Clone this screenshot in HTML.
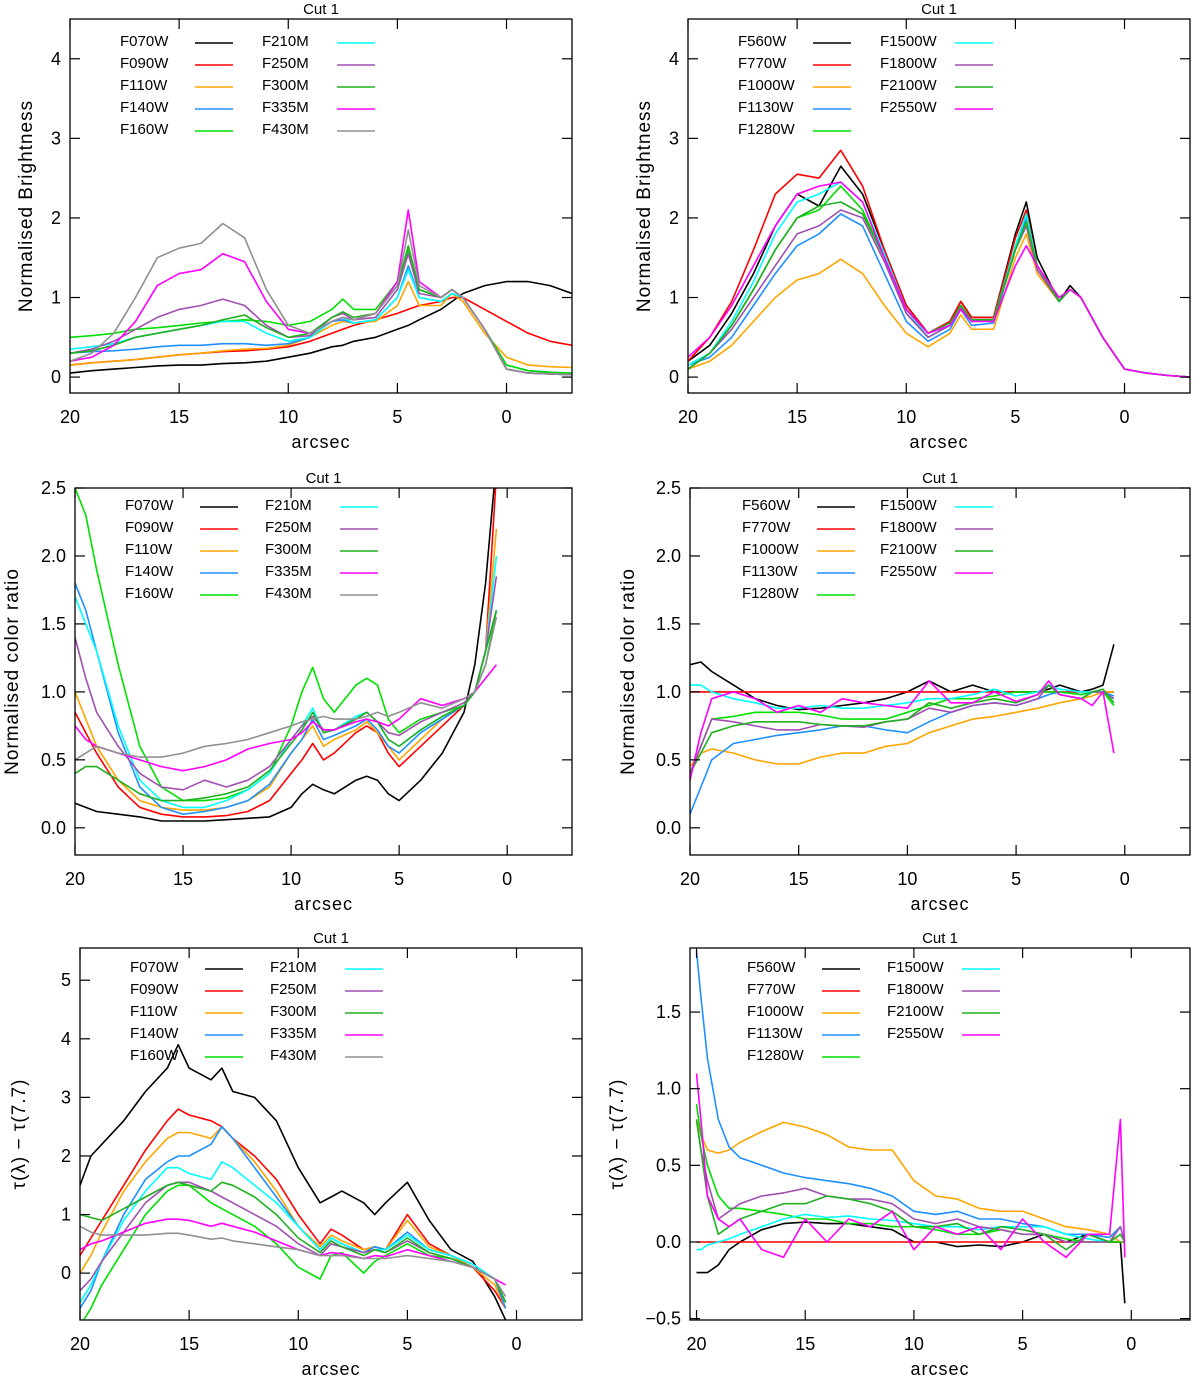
<!DOCTYPE html>
<html><head><meta charset="utf-8">
<style>
html,body{margin:0;padding:0;background:#fff;}
svg{display:block;font-family:"Liberation Sans",sans-serif;}
</style></head>
<body>
<svg id="chart" width="1200" height="1379" viewBox="0 0 1200 1379" xmlns="http://www.w3.org/2000/svg"></svg>
<script>
// ---- Panel 1 data (Normalised brightness, NIRCam) ----
const p1X = [20,19,18,17,16,15,14,13,12,11,10,9,8,7.5,7,6,5,4.5,4,3,2.5,2,1,0,-1,-2,-3];
const p1F070W=[0.05,0.08,0.1,0.12,0.14,0.15,0.15,0.17,0.18,0.2,0.25,0.3,0.38,0.4,0.45,0.5,0.6,0.65,0.72,0.85,0.95,1.05,1.15,1.2,1.2,1.15,1.05];
const p1F090W=[0.15,0.18,0.2,0.22,0.25,0.28,0.3,0.32,0.33,0.35,0.38,0.45,0.55,0.6,0.65,0.72,0.8,0.85,0.9,0.95,1.0,1.0,0.85,0.7,0.55,0.45,0.4];
const p1F110W=[0.15,0.18,0.2,0.22,0.25,0.28,0.3,0.33,0.35,0.36,0.4,0.5,0.65,0.7,0.68,0.7,0.9,1.2,0.9,0.9,1.05,0.95,0.55,0.25,0.15,0.13,0.12];
const p1F140W=[0.3,0.32,0.33,0.35,0.38,0.4,0.4,0.42,0.42,0.4,0.42,0.5,0.7,0.72,0.68,0.72,1.0,1.4,1.0,0.95,1.05,1.0,0.6,0.15,0.08,0.06,0.05];
const p1F160W=[0.5,0.52,0.55,0.6,0.62,0.65,0.68,0.7,0.72,0.7,0.65,0.7,0.85,0.98,0.85,0.85,1.2,1.6,1.1,1.0,1.1,1.0,0.6,0.15,0.08,0.06,0.05];
const p1F210M=[0.35,0.38,0.42,0.5,0.55,0.6,0.65,0.7,0.7,0.55,0.45,0.5,0.7,0.75,0.68,0.72,1.0,1.35,1.0,0.95,1.05,1.0,0.6,0.1,0.05,0.04,0.03];
const p1F250M=[0.3,0.35,0.45,0.6,0.75,0.85,0.9,0.98,0.9,0.65,0.5,0.52,0.75,0.8,0.72,0.75,1.1,1.55,1.05,1.0,1.1,1.0,0.6,0.1,0.05,0.04,0.03];
const p1F300M=[0.3,0.33,0.4,0.5,0.55,0.6,0.65,0.72,0.78,0.62,0.5,0.55,0.75,0.82,0.75,0.8,1.15,1.65,1.1,1.0,1.1,1.0,0.6,0.1,0.05,0.04,0.03];
const p1F335M=[0.2,0.25,0.4,0.7,1.15,1.3,1.35,1.55,1.45,0.95,0.6,0.55,0.7,0.75,0.72,0.8,1.2,2.1,1.2,1.0,1.1,1.0,0.6,0.1,0.05,0.04,0.03];
const p1F430M=[0.2,0.3,0.55,1.0,1.5,1.62,1.68,1.93,1.75,1.1,0.65,0.55,0.7,0.75,0.72,0.8,1.15,1.85,1.15,1.0,1.1,1.0,0.6,0.1,0.05,0.04,0.03];
// ---- Panel 2 data (Normalised brightness, MIRI) ----
const p2X = [20,19,18,17,16,15,14,13,12,11,10,9,8,7.5,7,6,5,4.5,4,3,2.5,2,1,0,-1,-2,-3];
const p2F560W=[0.2,0.4,0.8,1.3,1.9,2.3,2.15,2.65,2.3,1.6,0.9,0.55,0.7,0.95,0.75,0.75,1.8,2.2,1.5,0.95,1.15,1.0,0.5,0.1,0.05,0.02,0.0];
const p2F770W=[0.2,0.5,0.95,1.6,2.3,2.55,2.5,2.85,2.4,1.6,0.9,0.55,0.7,0.95,0.75,0.75,1.75,2.1,1.4,0.95,1.1,1.0,0.5,0.1,0.05,0.02,0.0];
const p2F1000W=[0.1,0.2,0.4,0.7,1.0,1.22,1.3,1.48,1.3,0.9,0.55,0.38,0.55,0.78,0.6,0.6,1.5,1.8,1.3,0.95,1.1,1.0,0.5,0.1,0.05,0.02,0.0];
const p2F1130W=[0.15,0.25,0.5,0.9,1.3,1.65,1.8,2.05,1.9,1.3,0.7,0.45,0.6,0.85,0.65,0.68,1.6,2.0,1.4,0.95,1.1,1.0,0.5,0.1,0.05,0.02,0.0];
const p2F1280W=[0.15,0.3,0.65,1.1,1.6,2.0,2.1,2.4,2.1,1.5,0.8,0.5,0.65,0.9,0.7,0.72,1.65,2.05,1.4,0.95,1.1,1.0,0.5,0.1,0.05,0.02,0.0];
const p2F1500W=[0.15,0.3,0.7,1.2,1.8,2.2,2.3,2.45,2.2,1.55,0.85,0.5,0.65,0.9,0.7,0.72,1.65,2.05,1.4,0.95,1.1,1.0,0.5,0.1,0.05,0.02,0.0];
const p2F1800W=[0.1,0.3,0.6,1.0,1.4,1.8,1.9,2.1,2.0,1.45,0.8,0.5,0.65,0.88,0.7,0.72,1.6,1.9,1.35,0.95,1.1,1.0,0.5,0.1,0.05,0.02,0.0];
const p2F2100W=[0.1,0.3,0.65,1.1,1.6,2.0,2.15,2.2,2.05,1.5,0.85,0.55,0.68,0.9,0.72,0.72,1.6,1.95,1.4,0.95,1.1,1.0,0.5,0.1,0.05,0.02,0.0];
const p2F2550W=[0.25,0.5,0.9,1.4,1.9,2.3,2.4,2.45,2.2,1.5,0.85,0.55,0.65,0.85,0.7,0.7,1.4,1.65,1.4,1.0,1.1,1.0,0.5,0.1,0.05,0.02,0.0];
// ---- Panel 3 data (colour ratio, NIRCam) ----
const p3X = [20,19.5,19,18,17,16,15,14,13,12,11,10,9.5,9,8.5,8,7,6.5,6,5.5,5,4,3,2,1.5,1,0.5];
const p3F070W=[0.18,0.15,0.12,0.1,0.08,0.05,0.05,0.05,0.06,0.07,0.08,0.15,0.25,0.32,0.28,0.25,0.35,0.38,0.35,0.25,0.2,0.35,0.55,0.85,1.2,1.8,2.7];
const p3F090W=[0.85,0.7,0.55,0.3,0.15,0.1,0.08,0.08,0.09,0.12,0.2,0.4,0.5,0.62,0.5,0.55,0.7,0.75,0.7,0.55,0.45,0.6,0.75,0.9,1.0,1.3,2.6];
const p3F110W=[1.0,0.8,0.6,0.35,0.2,0.15,0.13,0.13,0.15,0.2,0.3,0.55,0.65,0.75,0.6,0.65,0.72,0.78,0.7,0.6,0.5,0.65,0.8,0.9,1.0,1.3,2.2];
const p3F140W=[1.8,1.6,1.3,0.7,0.3,0.15,0.1,0.12,0.15,0.2,0.32,0.55,0.65,0.8,0.65,0.68,0.75,0.8,0.72,0.6,0.55,0.7,0.8,0.9,1.0,1.3,1.6];
const p3F160W=[2.5,2.3,1.9,1.2,0.6,0.3,0.2,0.2,0.22,0.28,0.4,0.75,1.0,1.18,0.95,0.85,1.05,1.1,1.05,0.8,0.7,0.8,0.85,0.9,1.0,1.2,1.6];
const p3F210M=[1.7,1.5,1.3,0.75,0.35,0.2,0.15,0.15,0.2,0.28,0.4,0.65,0.75,0.88,0.7,0.72,0.82,0.85,0.78,0.65,0.6,0.72,0.82,0.9,1.0,1.3,2.0];
const p3F250M=[1.4,1.1,0.85,0.6,0.4,0.3,0.28,0.35,0.3,0.35,0.45,0.65,0.75,0.82,0.72,0.72,0.8,0.85,0.78,0.7,0.68,0.78,0.85,0.92,1.0,1.3,1.85];
const p3F300M=[0.4,0.45,0.45,0.35,0.25,0.2,0.2,0.22,0.25,0.3,0.42,0.62,0.72,0.85,0.7,0.72,0.8,0.85,0.78,0.65,0.6,0.72,0.82,0.9,1.0,1.3,1.6];
const p3F335M=[0.75,0.65,0.6,0.55,0.5,0.45,0.42,0.45,0.5,0.58,0.62,0.65,0.7,0.78,0.72,0.72,0.78,0.8,0.78,0.75,0.8,0.95,0.9,0.95,1.0,1.1,1.2];
const p3F430M=[0.5,0.55,0.6,0.55,0.52,0.52,0.55,0.6,0.62,0.65,0.7,0.75,0.78,0.8,0.82,0.8,0.8,0.82,0.85,0.82,0.85,0.92,0.88,0.95,1.0,1.2,1.55];
// ---- Panel 4 data (colour ratio, MIRI) ----
const p4X = [20,19.5,19,18,17,16,15,14,13,12,11,10,9,8,7,6,5,4,3.5,3,2,1.5,1,0.5];
const p4F560W=[1.2,1.22,1.15,1.05,0.95,0.9,0.87,0.88,0.9,0.92,0.95,1.0,1.08,1.0,1.05,1.0,1.0,1.0,1.02,1.05,1.0,1.02,1.05,1.35];
const p4F770W=[1,1,1,1,1,1,1,1,1,1,1,1,1,1,1,1,1,1,1,1,1,1,1,1];
const p4F1000W=[0.45,0.55,0.58,0.55,0.5,0.47,0.47,0.52,0.55,0.55,0.6,0.62,0.7,0.75,0.8,0.82,0.85,0.88,0.9,0.92,0.95,0.97,1.0,1.0];
const p4F1130W=[0.1,0.3,0.5,0.62,0.65,0.68,0.7,0.72,0.75,0.75,0.72,0.7,0.78,0.85,0.9,0.92,0.9,0.95,0.98,1.0,0.98,1.0,1.0,0.97];
const p4F1280W=[0.4,0.6,0.8,0.82,0.85,0.85,0.85,0.83,0.8,0.8,0.8,0.85,0.9,0.95,0.95,0.97,1.0,1.0,1.0,1.0,0.98,1.0,1.0,0.9];
const p4F1500W=[1.05,1.05,1.0,0.95,0.92,0.88,0.88,0.9,0.88,0.88,0.9,0.92,0.95,0.95,0.98,1.02,0.97,1.0,1.05,1.02,1.0,1.0,1.0,0.95];
const p4F1800W=[0.4,0.6,0.8,0.78,0.75,0.72,0.72,0.76,0.75,0.74,0.78,0.8,0.88,0.85,0.9,0.92,0.9,0.95,1.05,0.98,0.95,1.0,1.0,0.95];
const p4F2100W=[0.4,0.55,0.7,0.75,0.78,0.78,0.78,0.76,0.75,0.75,0.78,0.8,0.92,0.88,0.92,0.95,0.92,0.98,1.05,0.98,0.95,1.0,1.02,0.92];
const p4F2550W=[0.35,0.7,0.95,1.0,0.95,0.85,0.9,0.85,0.95,0.92,0.9,0.88,1.08,0.92,0.92,1.0,0.93,0.98,1.08,0.98,0.95,0.9,1.0,0.55];
// ---- Panel 5 data (tau difference, NIRCam) ----
const p5X = [20,19.5,19,18,17,16,15.5,15,14,13.5,13,12,11,10,9,8.5,8,7,6.5,6,5,4,3,2,1,0.5];
const p5F070W=[1.5,2.0,2.2,2.6,3.1,3.5,3.9,3.5,3.3,3.5,3.1,3.0,2.6,1.8,1.2,1.3,1.4,1.2,1.0,1.2,1.55,0.9,0.4,0.2,-0.4,-0.8];
const p5F090W=[0.3,0.6,0.9,1.5,2.1,2.6,2.8,2.7,2.6,2.5,2.3,2.0,1.6,1.0,0.5,0.75,0.65,0.4,0.45,0.4,1.0,0.5,0.3,0.1,-0.3,-0.6];
const p5F110W=[0.0,0.3,0.7,1.4,1.9,2.3,2.4,2.4,2.3,2.5,2.3,1.9,1.4,0.8,0.45,0.65,0.55,0.4,0.45,0.4,0.9,0.45,0.3,0.1,-0.2,-0.6];
const p5F140W=[-0.6,-0.3,0.2,1.0,1.6,1.9,2.0,2.0,2.2,2.5,2.3,1.8,1.3,0.8,0.4,0.6,0.5,0.35,0.45,0.4,0.7,0.4,0.3,0.15,-0.1,-0.6];
const p5F160W=[-0.9,-0.6,-0.2,0.4,1.0,1.4,1.5,1.5,1.2,1.1,1.0,0.8,0.5,0.1,-0.1,0.3,0.35,0.0,0.2,0.3,0.5,0.3,0.25,0.1,-0.1,-0.5];
const p5F210M=[-0.5,-0.2,0.2,0.9,1.4,1.8,1.8,1.7,1.6,1.9,1.8,1.5,1.2,0.8,0.4,0.6,0.5,0.35,0.4,0.4,0.65,0.4,0.3,0.15,-0.1,-0.5];
const p5F250M=[-0.3,-0.1,0.2,0.7,1.2,1.5,1.55,1.55,1.4,1.3,1.2,1.0,0.8,0.5,0.3,0.5,0.45,0.35,0.4,0.35,0.55,0.35,0.25,0.1,-0.1,-0.5];
const p5F300M=[1.0,0.95,0.9,1.1,1.3,1.5,1.55,1.5,1.4,1.55,1.5,1.3,1.0,0.6,0.35,0.55,0.45,0.3,0.4,0.35,0.6,0.35,0.25,0.1,-0.1,-0.5];
const p5F335M=[0.4,0.5,0.55,0.7,0.85,0.92,0.92,0.9,0.8,0.85,0.8,0.7,0.55,0.4,0.3,0.35,0.33,0.25,0.3,0.28,0.4,0.3,0.2,0.1,-0.1,-0.2];
const p5F430M=[0.8,0.7,0.65,0.65,0.65,0.68,0.68,0.65,0.58,0.6,0.55,0.5,0.45,0.4,0.3,0.3,0.3,0.25,0.25,0.25,0.3,0.25,0.2,0.1,-0.1,-0.4];
// ---- Panel 6 data (tau difference, MIRI) ----
const p6X = [20,19.8,19.5,19,18.5,18,17,16,15,14,13,12,11,10,9,8,7,6,5,4,3,2,1,0.5,0.3];
const p6F560W=[-0.2,-0.2,-0.2,-0.15,-0.05,0.0,0.08,0.12,0.13,0.12,0.12,0.1,0.08,0.0,0.0,-0.03,-0.02,-0.03,0.0,0.05,0.0,0.05,0.0,0.0,-0.4];
const p6F770W=[0,0,0,0,0,0,0,0,0,0,0,0,0,0,0,0,0,0,0,0,0,0,0,0,0];
const p6F1000W=[0.8,0.7,0.6,0.58,0.6,0.65,0.72,0.78,0.75,0.7,0.62,0.6,0.6,0.4,0.3,0.28,0.22,0.2,0.2,0.15,0.1,0.08,0.05,0.0,0.0];
const p6F1130W=[1.9,1.6,1.2,0.8,0.62,0.55,0.5,0.45,0.42,0.4,0.38,0.35,0.3,0.2,0.18,0.2,0.15,0.15,0.12,0.1,0.05,0.05,0.03,0.1,0.0];
const p6F1280W=[0.9,0.7,0.5,0.3,0.22,0.22,0.2,0.18,0.15,0.15,0.12,0.12,0.1,0.1,0.08,0.05,0.05,0.08,0.05,0.05,0.02,0.0,0.0,0.0,0.0];
const p6F1500W=[-0.05,-0.05,-0.02,0.0,0.02,0.05,0.1,0.15,0.18,0.16,0.17,0.15,0.14,0.12,0.1,0.1,0.08,0.1,0.1,0.1,0.05,0.02,0.0,0.1,0.0];
const p6F1800W=[0.8,0.6,0.4,0.15,0.2,0.25,0.3,0.32,0.35,0.3,0.28,0.28,0.25,0.15,0.12,0.15,0.1,0.08,0.05,0.05,0.0,0.0,0.0,0.1,0.0];
const p6F2100W=[0.8,0.6,0.3,0.05,0.1,0.15,0.2,0.25,0.25,0.3,0.28,0.25,0.2,0.1,0.1,0.12,0.05,0.1,0.08,0.05,-0.05,0.05,0.0,0.05,0.0];
const p6F2550W=[1.1,0.8,0.3,0.15,0.1,0.15,-0.05,-0.1,0.15,0.0,0.15,0.1,0.2,-0.05,0.1,0.05,0.1,-0.05,0.15,0.0,-0.1,0.05,0.05,0.8,-0.1];

const xTicks=[20,15,10,5,0];
const yTicksA=[0,1,2,3,4];
const yTicksB=[0,0.5,1,1.5,2,2.5];
const yTicksC=[0,1,2,3,4,5];
const yTicksD=[-0.5,0,0.5,1,1.5];

const nirNames=['F070W','F090W','F110W','F140W','F160W','F210M','F250M','F300M','F335M','F430M'];
const nirColors=['#000000','#ff0000','#ffa500','#1e90ff','#00e000','#00ffff','#a050b0','#20b020','#ff00ff','#909090'];
const miriNames=['F560W','F770W','F1000W','F1130W','F1280W','F1500W','F1800W','F2100W','F2550W'];
const miriColors=['#000000','#ff0000','#ffa500','#1e90ff','#00e000','#00ffff','#a050b0','#20b020','#ff00ff'];

const NS='http://www.w3.org/2000/svg';
const svg=document.getElementById('chart');
function mk(tag,attrs,parent){const e=document.createElementNS(NS,tag);for(const k in attrs)e.setAttribute(k,attrs[k]);(parent||svg).appendChild(e);return e;}

function drawPanel(id,box,xd,yd,yTicks,yFmt,ytitle,ytx,xs,series,names,colors,leg){
  const g=mk('g',{});
  
  
  const xS=v=>box.L+(xd[0]-v)/(xd[0]-xd[1])*(box.R-box.L);
  const yS=v=>box.B-(v-yd[0])/(yd[1]-yd[0])*(box.B-box.T);
  const cid='clip-'+id;
  const cp=mk('clipPath',{id:cid},g);
  mk('rect',{x:box.L,y:box.T,width:box.R-box.L,height:box.B-box.T},cp);
  // series
  const sg=mk('g',{'clip-path':'url(#'+cid+')'},g);
  series.forEach((arr,i)=>{
    const pts=arr.map((v,j)=>xS(xs[j]).toFixed(1)+','+yS(v).toFixed(1)).join(' ');
    const pl=mk('polyline',{points:pts,fill:'none',stroke:colors[i],'stroke-width':1.6,'stroke-linejoin':'round'},sg);
    
    
  });
  // frame
  const fr=mk('rect',{x:box.L,y:box.T,width:box.R-box.L,height:box.B-box.T,fill:'none',stroke:'#000','stroke-width':1.3},g);
  
  
  // x ticks
  xTicks.forEach(t=>{
    const x=xS(t);
    mk('line',{x1:x,x2:x,y1:box.B,y2:box.B-10,stroke:'#000','stroke-width':1.2},g);
    mk('line',{x1:x,x2:x,y1:box.T,y2:box.T+10,stroke:'#000','stroke-width':1.2},g);
    const tx=mk('text',{x:x,y:box.B+30,'text-anchor':'middle','font-size':18},g);
    tx.textContent=String(t);
    
    
  });
  yTicks.forEach(t=>{
    const y=yS(t);
    mk('line',{x1:box.L,x2:box.L+10,y1:y,y2:y,stroke:'#000','stroke-width':1.2},g);
    mk('line',{x1:box.R,x2:box.R-10,y1:y,y2:y,stroke:'#000','stroke-width':1.2},g);
    const tx=mk('text',{x:box.L-9,y:y+6,'text-anchor':'end','font-size':18},g);
    tx.textContent=yFmt(t);
    
    
  });
  const tt=mk('text',{x:(box.L+box.R)/2,y:box.T-5,'text-anchor':'middle','font-size':15},g);
  tt.textContent='Cut 1';
  
  
  const xt=mk('text',{x:(box.L+box.R)/2,y:box.B+55,'text-anchor':'middle','font-size':18,'letter-spacing':'1'},g);
  xt.textContent='arcsec';
  
  
  const cy=(box.T+box.B)/2;
  const yt=mk('text',{x:ytx,y:cy,'text-anchor':'middle','font-size':19,'letter-spacing':'1',transform:'rotate(-90 '+ytx+' '+cy+')'},g);
  yt.textContent=ytitle;
  
  
  // legend
  names.forEach((n,i)=>{
    const col=i<5?0:1, row=i<5?i:i-5;
    const lx=leg.x[col], ly=leg.y+row*22;
    const lg=mk('g',{},g);
    
    
    const t=mk('text',{x:lx,y:ly+5,'font-size':15},lg);
    t.textContent=n;
    mk('line',{x1:lx+75,x2:lx+113,y1:ly+2,y2:ly+2,stroke:colors[i],'stroke-width':1.6},lg);
  });
}
const f0=v=>String(v);
const f1=v=>v<0?'\u2212'+Math.abs(v).toFixed(1):v.toFixed(1);

drawPanel('panel-brightness-nircam',{L:70,R:572,T:19,B:393},[20,-3],[-0.2,4.5],yTicksA,f0,'Normalised  Brightness',32,p1X,
 [p1F070W,p1F090W,p1F110W,p1F140W,p1F160W,p1F210M,p1F250M,p1F300M,p1F335M,p1F430M],nirNames,nirColors,{x:[120,262],y:41});
drawPanel('panel-brightness-miri',{L:688,R:1190,T:19,B:393},[20,-3],[-0.2,4.5],yTicksA,f0,'Normalised  Brightness',650,p2X,
 [p2F560W,p2F770W,p2F1000W,p2F1130W,p2F1280W,p2F1500W,p2F1800W,p2F2100W,p2F2550W],miriNames,miriColors,{x:[738,880],y:41});
drawPanel('panel-color-nircam',{L:75,R:572,T:488,B:855},[20,-3],[-0.2,2.5],yTicksB,f1,'Normalised color ratio',18,p3X,
 [p3F070W,p3F090W,p3F110W,p3F140W,p3F160W,p3F210M,p3F250M,p3F300M,p3F335M,p3F430M],nirNames,nirColors,{x:[125,265],y:505});
drawPanel('panel-color-miri',{L:690,R:1190,T:488,B:855},[20,-3],[-0.2,2.5],yTicksB,f1,'Normalised color ratio',634,p4X,
 [p4F560W,p4F770W,p4F1000W,p4F1130W,p4F1280W,p4F1500W,p4F1800W,p4F2100W,p4F2550W],miriNames,miriColors,{x:[742,880],y:505});
drawPanel('panel-tau-nircam',{L:80,R:582,T:948,B:1320},[20,-3],[-0.8,5.55],yTicksC,f0,'\u03c4(\u03bb)  \u2212  \u03c4(7.7)',25,p5X,
 [p5F070W,p5F090W,p5F110W,p5F140W,p5F160W,p5F210M,p5F250M,p5F300M,p5F335M,p5F430M],nirNames,nirColors,{x:[130,270],y:967});
drawPanel('panel-tau-miri',{L:690,R:1190,T:948,B:1320},[20.3,-2.7],[-0.509,1.918],yTicksD,f1,'\u03c4(\u03bb)  \u2212  \u03c4(7.7)',623,p6X,
 [p6F560W,p6F770W,p6F1000W,p6F1130W,p6F1280W,p6F1500W,p6F1800W,p6F2100W,p6F2550W],miriNames,miriColors,{x:[747,887],y:967});
</script>
</body></html>
